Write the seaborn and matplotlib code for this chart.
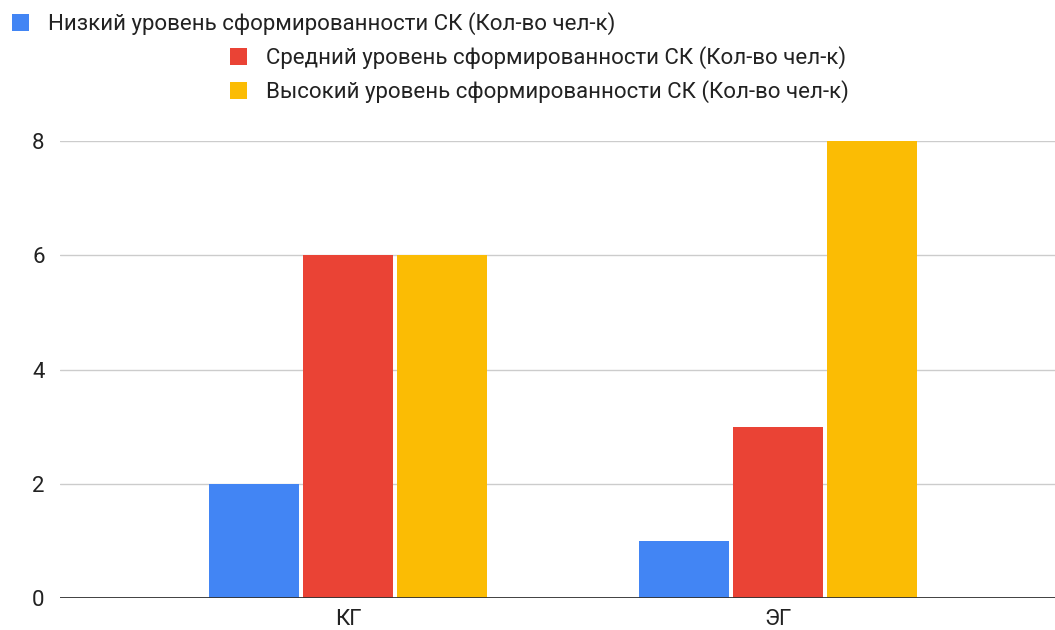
import pandas as pd
import matplotlib.pyplot as plt
import seaborn as sns

# данные
groups = ['КГ', 'ЭГ']
levels = ['Низкий уровень сформированности СК (Кол-во чел-к)',
          'Средний уровень сформированности СК (Кол-во чел-к)',
          'Высокий уровень сформированности СК (Кол-во чел-к)']
low = [2, 1]
mid = [6, 3]
high = [6, 8]
colors = ['#4285F4', '#EA4335', '#FBBC04']

rows = []
for lvl, vals in zip(levels, [low, mid, high]):
    for g, v in zip(groups, vals):
        rows.append({'group': g, 'level': lvl, 'count': v})
df = pd.DataFrame(rows)

sns.set_style('white')
plt.rcParams['font.family'] = ['Roboto', 'DejaVu Sans']

fig = plt.figure(figsize=(10.55, 6.3), dpi=100)
ax = fig.add_axes([60 / 1055, 1 - 598 / 630, 995 / 1055, (598 - 141) / 630])

sns.barplot(data=df, x='group', y='count', hue='level', hue_order=levels,
            palette=colors, width=0.656, gap=0.05, saturation=1,
            edgecolor='none', ax=ax, legend=True)

ax.set_xlim(-0.67, 1.644)
ax.set_ylim(0, 8)
ax.set_yticks([0, 2, 4, 6, 8])
ax.set_xlabel('')
ax.set_ylabel('')
ax.yaxis.grid(True, color='#cccccc', linewidth=1)
ax.set_axisbelow(True)
ax.axhline(0, color='#333333', linewidth=1.3, zorder=5)
sns.despine(ax=ax, left=True, bottom=True)
ax.tick_params(axis='both', length=0, labelsize=16, colors='#222222')
ax.tick_params(axis='y', pad=11)
ax.tick_params(axis='x', pad=8)

# легенда в три строки как в оригинале
handles, labels = ax.get_legend_handles_labels()
ax.get_legend().remove()
spots = [(12 / 1055, 1 - 24 / 630), (230 / 1055, 1 - 58 / 630), (230 / 1055, 1 - 92 / 630)]
for h, l, (x, y) in zip(handles, labels, spots):
    fig.legend([h], [l], loc='center left', bbox_to_anchor=(x, y), frameon=False,
               fontsize=16, handlelength=0.77, handleheight=0.77, handletextpad=0.86,
               borderpad=0, borderaxespad=0, labelcolor='#222222')

plt.savefig('out.png', dpi=100)
